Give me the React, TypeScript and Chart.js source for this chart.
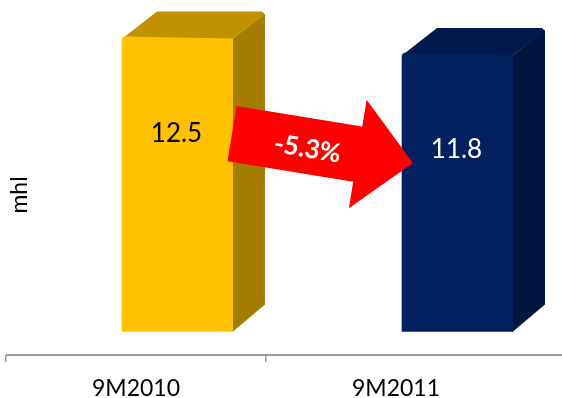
import React, { useEffect, useRef } from 'react';
import { Chart, registerables } from 'chart.js';
Chart.register(...registerables);

const categories = ['9M2010', '9M2011'];
const values = [12.5, 11.8];
const changeLabel = '-5.3%';
const axisTitle = 'mhl';
const frontColors = ['#FFC000', '#002060'];
const sideColors = ['#A67C00', '#00163F'];
const topColors = ['#C29100', '#001A4E'];
const valueLabelColors = ['#000000', '#FFFFFF'];

const DEPTH_X = 32;
const DEPTH_Y = 25;
const FONT = 'Lato, "Open Sans", sans-serif';

const bar3dPlugin = {
  id: 'bar3d',
  afterDatasetsDraw(chart: any) {
    const ctx = chart.ctx;
    const meta = chart.getDatasetMeta(0);
    const boxes = meta.data.map((el: any) => {
      const p = el.getProps(['x', 'y', 'base', 'width'], true);
      return { l: p.x - p.width / 2, r: p.x + p.width / 2, x: p.x, top: p.y, base: p.base };
    });
    ctx.save();
    boxes.forEach((b: any, i: number) => {
      ctx.fillStyle = sideColors[i];
      ctx.beginPath();
      ctx.moveTo(b.r, b.top + 2);
      ctx.lineTo(b.r + DEPTH_X, b.top - DEPTH_Y + 2);
      ctx.lineTo(b.r + DEPTH_X, b.base - DEPTH_Y - 2);
      ctx.lineTo(b.r, b.base);
      ctx.closePath();
      ctx.fill();
      ctx.fillStyle = topColors[i];
      ctx.beginPath();
      ctx.moveTo(b.l + 3, b.top);
      ctx.lineTo(b.l + 3 + DEPTH_X, b.top - DEPTH_Y);
      ctx.lineTo(b.r + DEPTH_X - 3, b.top - DEPTH_Y);
      ctx.lineTo(b.r + DEPTH_X, b.top - DEPTH_Y + 3);
      ctx.lineTo(b.r, b.top + 2);
      ctx.closePath();
      ctx.fill();
      ctx.fillStyle = valueLabelColors[i];
      ctx.font = `26px ${FONT}`;
      ctx.textAlign = 'center';
      ctx.textBaseline = 'middle';
      ctx.fillText(String(values[i]), b.x - 1, b.top + 97);
    });

    if (boxes.length >= 2) {
      const a = boxes[0];
      const c = boxes[1];
      const sx = a.r - 1;
      const sy = a.top + 97;
      const tx = c.l + 11;
      const ty = c.top + 110;
      const ang = Math.atan2(ty - sy, tx - sx);
      const len = Math.hypot(tx - sx, ty - sy);
      const headLen = 56;
      const shaft = len - headLen;
      ctx.save();
      ctx.translate(sx, sy);
      ctx.rotate(ang);
      ctx.fillStyle = '#FF0000';
      ctx.beginPath();
      ctx.moveTo(0, -28);
      ctx.lineTo(shaft, -28);
      ctx.lineTo(shaft, -55);
      ctx.lineTo(len, 0);
      ctx.lineTo(shaft, 55);
      ctx.lineTo(shaft, 28);
      ctx.lineTo(0, 28);
      ctx.closePath();
      ctx.fill();
      ctx.fillStyle = '#FFFFFF';
      ctx.font = `bold 26px ${FONT}`;
      ctx.textAlign = 'center';
      ctx.textBaseline = 'middle';
      ctx.fillText(changeLabel, 77, 3);
      ctx.restore();
    }
    ctx.restore();
  },
  afterDraw(chart: any) {
    const ctx = chart.ctx;
    const area = chart.chartArea;
    ctx.save();
    ctx.strokeStyle = '#9A9A9A';
    ctx.lineWidth = 2;
    ctx.beginPath();
    ctx.moveTo(area.left, area.bottom);
    ctx.lineTo(chart.width, area.bottom);
    ctx.stroke();
    ctx.translate(area.left + 14, 195);
    ctx.rotate(-Math.PI / 2);
    ctx.fillStyle = '#000000';
    ctx.font = `23px ${FONT}`;
    ctx.textAlign = 'center';
    ctx.textBaseline = 'middle';
    ctx.fillText(axisTitle, 0, 0);
    ctx.restore();
  },
};

export default function App() {
  const ref = useRef<HTMLCanvasElement | null>(null);
  useEffect(() => {
    if (!ref.current) return;
    const chart = new Chart(ref.current, {
      type: 'bar',
      data: {
        labels: categories,
        datasets: [
          {
            data: values.map((v, i) => ({ x: i, y: v })),
            xAxisID: 'xb',
            backgroundColor: frontColors,
            borderWidth: 0,
            borderRadius: 4,
            barThickness: 111,
          },
        ],
      },
      options: {
        animation: false,
        responsive: false,
        events: [],
        layout: { padding: { left: 6, right: 36, top: 13, bottom: 0 } },
        plugins: { legend: { display: false }, tooltip: { enabled: false }, title: { display: false } },
        scales: {
          x: {
            type: 'category',
            position: 'bottom',
            offset: true,
            border: { display: false },
            afterFit: (scale: any) => {
              scale.height = 43;
            },
            grid: {
              offset: true,
              drawOnChartArea: false,
              drawTicks: true,
              tickLength: 7,
              lineWidth: 1.5,
              color: (c: any) => (c.type !== 'tick' || c.index >= 2 ? 'rgba(0,0,0,0)' : '#9A9A9A'),
            },
            ticks: { color: '#000000', font: { family: FONT, size: 23 }, padding: 13 },
          },
          xb: {
            type: 'linear',
            display: false,
            min: -0.6125,
            max: 1.2446,
            offset: false,
          },
          y: {
            display: false,
            min: -1,
            max: 13.5,
          },
        },
      },
      plugins: [bar3dPlugin],
    });
    return () => chart.destroy();
  }, []);
  return (
    <div style={{ position: 'absolute', left: 0, top: 0, width: 562, height: 398 }}>
      <canvas ref={ref} width={562} height={398} />
    </div>
  );
}
